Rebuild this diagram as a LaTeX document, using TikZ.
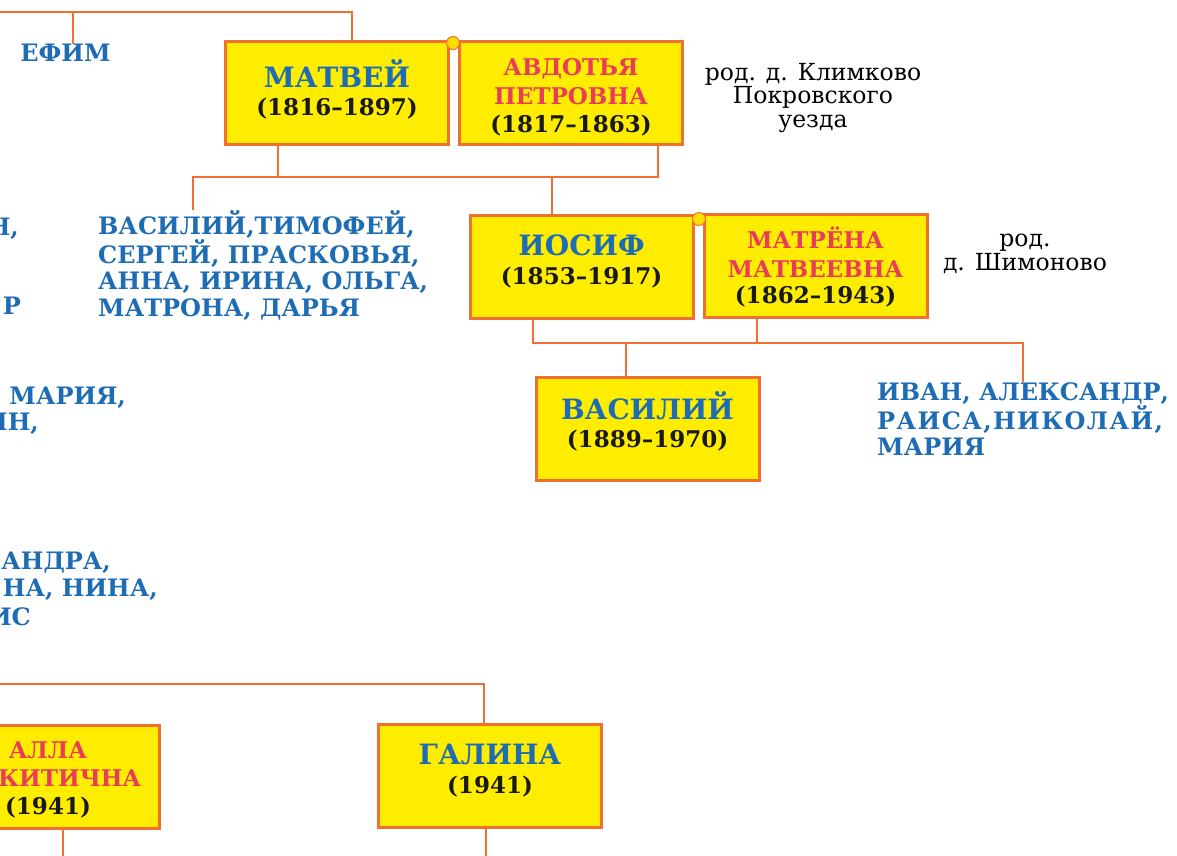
\documentclass[tikz,border=0pt]{standalone}
\usepackage{fontspec}
\setmainfont{DejaVu Serif}
\usepackage{tikz}
\usetikzlibrary{positioning}
\definecolor{famblue}{RGB}{29,108,180}
\definecolor{famred}{RGB}{233,60,90}
\definecolor{famline}{RGB}{240,112,50}
\definecolor{famfill}{RGB}{255,237,0}
\newcommand{\boyfont}{\bfseries\fontsize{28}{28.5}\selectfont}
\newcommand{\girlfont}{\bfseries\fontsize{23}{28.5}\selectfont}
\newcommand{\yearfont}{\bfseries\fontsize{23}{28.5}\selectfont}
\newcommand{\kidfont}{\bfseries\fontsize{24}{26.7}\selectfont}
\newcommand{\placefont}{\fontsize{23.5}{23.5}\selectfont}

\begin{document}
\begin{tikzpicture}[x=1pt,y=-1pt,
    tree/.style={draw=famline, line width=2.8pt},
    famBox/.style={draw=famline, fill=famfill, line width=3pt, minimum width=223pt, minimum height=103pt, inner sep=0pt},
    boyText/.style={align=center, inner sep=0pt, text=famblue, font=\yearfont},
    girlText/.style={align=center, inner sep=0pt, text=famred, font=\girlfont},
    kids/.style={align=left, inner sep=0pt, text=famblue, font=\kidfont},
    place/.style={align=center, inner sep=0pt, font=\placefont},
    ring/.style={circle, draw=famline, fill=famfill!85!orange, line width=1pt, minimum size=13pt, inner sep=0pt}]
    \useasboundingbox (0,0) rectangle (1177,855);
    \clip (0,0) rectangle (1177,855);
    % Generation 1: Matvey and Avdotya
    \node[famBox] (matvey) at (337,92.5) {};
    \node[boyText] (matvey-t) at ([yshift=3]matvey.center) {\boyfont МАТВЕЙ\\ \textcolor{black!90}{(1816–1897)}};
    \node[famBox] (avdotya) at (571,92.5) {};
    \node[girlText] (avdotya-t) at ([yshift=-5]avdotya.center) {АВДОТЬЯ\\ ПЕТРОВНА\\ \textcolor{black!90}{(1817–1863)}};
    \node[ring] (knot1) at (453,43) {};
    \node[place] (place1) at (813,98) {род. д. Климково\\ Покровского\\ уезда};
    \node[kids, text=famblue] (efim) at (65.5,53) {ЕФИМ};
    % Generation 2: Iosif and Matryona
    \node[kids, anchor=west] (kidsA) at (98,265.5) {ВАСИЛИЙ,ТИМОФЕЙ,\\ СЕРГЕЙ, ПРАСКОВЬЯ,\\ АННА, ИРИНА, ОЛЬГА,\\ МАТРОНА, ДАРЬЯ};
    \node[famBox] (iosif) at (581.5,266.5) {};
    \node[boyText] (iosif-t) at ([yshift=5]iosif.center) {\boyfont ИОСИФ\\ \textcolor{black!90}{(1853–1917)}};
    \node[famBox] (matrena) at (815.5,266) {};
    \node[girlText] (matrena-t) at ([yshift=-1]matrena.center) {МАТРЁНА\\ МАТВЕЕВНА\\[-2pt] \textcolor{black!90}{(1862–1943)}};
    \node[ring] (knot2) at (699,219) {};
    \node[place] (place2) at (1025,254) {род.\\ д. Шимоново};
    % Generation 3: Vasily
    \node[famBox] (vasily) at (647.5,428.5) {};
    \node[boyText] (vasily-t) at ([yshift=7]vasily.center) {\boyfont ВАСИЛИЙ\\ \textcolor{black!90}{(1889–1970)}};
    \node[kids, anchor=west] (kidsB) at (877,419) {ИВАН, АЛЕКСАНДР,\\ \addfontfeature{LetterSpace=6}РАИСА,НИКОЛАЙ,\\ МАРИЯ};
    % cut off at the left edge
    \node[kids, anchor=east] (cutA) at (19,229) {Н,};
    \node[kids, anchor=east] (cutB) at (21,306) {Р};
    \node[kids, anchor=east] (cutC) at (126,398) {МАРИЯ,};
    \node[kids, anchor=east] (cutD) at (39,424) {ИН,};
    \node[kids, anchor=east] (cutE) at (111,563) {АНДРА,};
    \node[kids, anchor=east] (cutF) at (158,590) {НА, НИНА,};
    \node[kids, anchor=east] (cutG) at (31,617) {ИС};
    % Generation 4: Alla and Galina
    \node[famBox] (alla) at (48,776.5) {};
    \node[girlText] (alla-t) at ([yshift=-3]alla.center) {АЛЛА\\ \phantom{НИ}КИТИЧНА\\[-1pt] \textcolor{black!90}{(1941)}};
    \node[famBox] (galina) at (490,775.5) {};
    \node[boyText] (galina-t) at ([yshift=5]galina.center) {\boyfont ГАЛИНА\\ \textcolor{black!90}{(1941)}};
    % Lines of descent
    \coordinate (gen0) at (0,12);
    \coordinate (gen1) at (193,177);
    \coordinate (gen2) at (1023,343);
    \coordinate (gen3) at (0,684);
    \draw[tree] (gen0) -| ([xshift=15]matvey.north);
    \draw[tree] ([xshift=7.5]efim.north) -- ([xshift=7.5]efim.north |- gen0);
    \draw[tree] ([xshift=-59]matvey.south) |- (gen1) -- (gen1 |- kidsA.north);
    \draw[tree] (gen1) -| ([xshift=87]avdotya.south);
    \draw[tree] ([xshift=-29.5]iosif.north) -- ([xshift=-29.5]iosif.north |- gen1);
    \draw[tree] ([xshift=-48.5]iosif.south) |- (gen2) -- (gen2 |- kidsB.north);
    \draw[tree] ([xshift=-58.5]matrena.south) -- ([xshift=-58.5]matrena.south |- gen2);
    \draw[tree] ([xshift=-21.5]vasily.north) -- ([xshift=-21.5]vasily.north |- gen2);
    \draw[tree] (gen3) -| ([xshift=-6]galina.north);
    \coordinate (downA) at (63,860);
    \coordinate (downG) at (486,860);
    \draw[tree] (alla.south -| downA) -- (downA);
    \draw[tree] (galina.south -| downG) -- (downG);
\end{tikzpicture}
\end{document}
